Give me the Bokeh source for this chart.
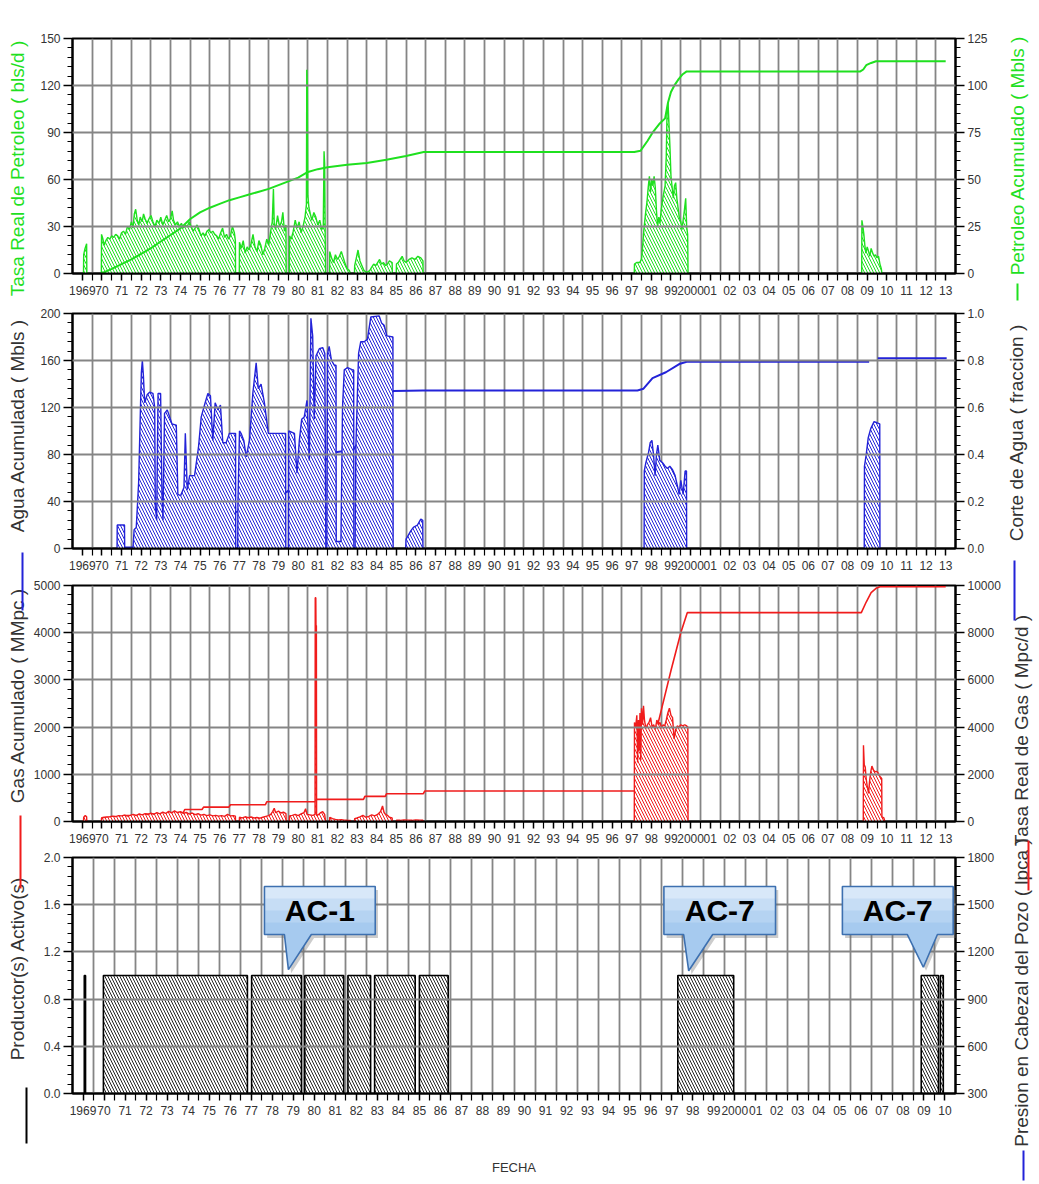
import math
from bokeh.plotting import figure
from bokeh.layouts import row, column
from bokeh.models import (Range1d, LinearAxis, FixedTicker, SingleIntervalTicker,
                          NumeralTickFormatter, AllLabels)
from bokeh.core.properties import value
from bokeh.embed import file_html
from bokeh.resources import INLINE

nan = float("nan")

# ---------------- tick labels ----------------
x_labels_top = ["1969", "70", "71", "72", "73", "74", "75", "76", "77", "78", "79",
                "80", "81", "82", "83", "84", "85", "86", "87", "88", "89",
                "90", "91", "92", "93", "94", "95", "96", "97", "98", "99",
                "2000", "01", "02", "03", "04", "05", "06", "07", "08", "09",
                "10", "11", "12", "13"]
x_labels_bottom = x_labels_top[:42]          # 1969 ... 10

# ---------------- panel 1 : oil ----------------
oil_rate = [   # Tasa Real de Petroleo (bls/d), segments of (year, value)
    [(1969.56, 0), (1969.57, 12), (1969.64, 16), (1969.72, 19), (1969.73, 0)],
    [(1970.47, 0), (1970.48, 25), (1970.55, 22), (1970.62, 18), (1970.70, 21), (1970.80, 23), (1970.90, 22),
     (1971.00, 24), (1971.10, 23), (1971.20, 25), (1971.30, 24), (1971.40, 22), (1971.50, 26), (1971.60, 27),
     (1971.70, 25), (1971.80, 30), (1971.90, 28), (1972.00, 33), (1972.08, 29), (1972.15, 38), (1972.22, 41),
     (1972.30, 34), (1972.38, 31), (1972.45, 36), (1972.55, 33), (1972.62, 38), (1972.70, 35), (1972.80, 32),
     (1972.90, 35), (1973.00, 37), (1973.10, 33), (1973.20, 30), (1973.30, 34), (1973.40, 32), (1973.50, 36),
     (1973.60, 31), (1973.70, 34), (1973.80, 37), (1973.90, 33), (1974.00, 35), (1974.08, 40), (1974.15, 34),
     (1974.25, 31), (1974.35, 33), (1974.45, 30), (1974.55, 32), (1974.65, 29), (1974.75, 31), (1974.85, 30),
     (1974.95, 33), (1975.05, 30), (1975.15, 27), (1975.25, 29), (1975.35, 31), (1975.45, 28), (1975.55, 24),
     (1975.65, 26), (1975.75, 24), (1975.85, 27), (1975.95, 28), (1976.05, 26), (1976.15, 27), (1976.25, 25),
     (1976.35, 24), (1976.45, 22), (1976.55, 26), (1976.65, 29), (1976.75, 23), (1976.85, 25), (1976.95, 22),
     (1977.05, 24), (1977.15, 30), (1977.25, 26), (1977.30, 21), (1977.31, 0)],
    [(1977.50, 0), (1977.51, 20), (1977.60, 16), (1977.70, 21), (1977.80, 13), (1977.90, 17), (1978.00, 15),
     (1978.10, 19), (1978.20, 25), (1978.30, 17), (1978.40, 14), (1978.50, 21), (1978.60, 18), (1978.70, 12),
     (1978.80, 16), (1978.90, 22), (1979.00, 18), (1979.10, 27), (1979.18, 33), (1979.24, 54), (1979.28, 32),
     (1979.35, 28), (1979.45, 37), (1979.55, 30), (1979.65, 33), (1979.72, 39), (1979.80, 27), (1979.88, 31),
     (1979.89, 0)],
    [(1980.05, 0), (1980.06, 24), (1980.15, 22), (1980.25, 27), (1980.35, 34), (1980.45, 29), (1980.55, 33),
     (1980.65, 26), (1980.75, 30), (1980.85, 36), (1980.92, 44), (1980.94, 130), (1980.97, 120), (1980.99, 50),
     (1981.05, 42), (1981.12, 38), (1981.20, 34), (1981.30, 39), (1981.40, 36), (1981.50, 31), (1981.60, 34),
     (1981.70, 28), (1981.78, 30), (1981.82, 78), (1981.85, 70), (1981.88, 22), (1981.90, 0)],
    [(1982.10, 0), (1982.11, 14), (1982.20, 10), (1982.30, 7), (1982.40, 12), (1982.50, 9), (1982.60, 11),
     (1982.70, 14), (1982.80, 10), (1982.90, 6), (1983.00, 3), (1983.10, 2), (1983.18, 0)],
    [(1983.37, 0), (1983.38, 5), (1983.45, 9), (1983.55, 15), (1983.65, 8), (1983.75, 5), (1983.85, 2),
     (1983.95, 1), (1984.05, 1), (1984.15, 2), (1984.25, 4), (1984.35, 6), (1984.45, 5), (1984.55, 7),
     (1984.65, 9), (1984.75, 6), (1984.85, 7), (1984.95, 5), (1985.05, 6), (1985.15, 8), (1985.29, 7), (1985.30, 0)],
    [(1985.50, 0), (1985.51, 6), (1985.60, 7), (1985.70, 9), (1985.80, 11), (1985.90, 8), (1986.00, 7),
     (1986.15, 9), (1986.30, 10), (1986.45, 9), (1986.60, 11), (1986.75, 10), (1986.86, 8), (1986.87, 0)],
    [(1997.63, 0), (1997.64, 6), (1997.75, 7), (1997.90, 7), (1998.00, 9), (1998.06, 18), (1998.12, 28),
     (1998.20, 38), (1998.28, 46), (1998.34, 55), (1998.40, 62), (1998.46, 52), (1998.52, 60), (1998.58, 56),
     (1998.64, 62), (1998.70, 55), (1998.76, 40), (1998.82, 30), (1998.88, 36), (1998.94, 32), (1999.00, 40),
     (1999.07, 47), (1999.14, 52), (1999.20, 56), (1999.26, 75), (1999.30, 103), (1999.35, 109), (1999.40, 95),
     (1999.45, 80), (1999.50, 62), (1999.56, 55), (1999.62, 48), (1999.68, 56), (1999.74, 58), (1999.80, 48),
     (1999.86, 42), (1999.92, 36), (2000.00, 33), (2000.06, 28), (2000.12, 34), (2000.18, 40), (2000.25, 48),
     (2000.30, 30), (2000.35, 25), (2000.37, 0)],
    [(2009.22, 0), (2009.23, 34), (2009.28, 30), (2009.33, 25), (2009.38, 18), (2009.43, 13), (2009.50, 17),
     (2009.57, 14), (2009.64, 11), (2009.70, 16), (2009.78, 13), (2009.85, 11), (2009.92, 12), (2010.00, 10),
     (2010.08, 11), (2010.15, 6), (2010.22, 3), (2010.25, 0)],
]
oil_cum = [   # Petroleo Acumulado (Mbls)
    (1970.47, 0), (1971.0, 2.5), (1971.5, 5), (1972.0, 7.5), (1972.5, 10.5), (1973.0, 13.5), (1973.5, 17),
    (1974.0, 20.5), (1974.5, 24), (1975.0, 29), (1975.5, 32.5), (1976.0, 35), (1976.5, 37), (1977.0, 39),
    (1977.5, 40.5), (1978.0, 42), (1978.5, 43.5), (1979.0, 45), (1979.5, 47), (1980.0, 49), (1980.5, 51),
    (1981.0, 54), (1981.5, 55.5), (1982.0, 56.5), (1982.5, 57.2), (1983.0, 57.8), (1984.0, 58.8), (1985.0, 60.5),
    (1986.0, 62.5), (1986.9, 64.6), (1997.63, 64.6), (1997.95, 65.3), (1998.3, 70.5), (1998.6, 75.5),
    (1998.9, 79.5), (1999.2, 82.5), (1999.35, 91), (1999.5, 96.5), (1999.7, 100.5), (1999.9, 103.5),
    (2000.1, 106), (2000.3, 107.5), (2009.15, 107.5), (2009.3, 108.5), (2009.45, 110.8), (2009.7, 112),
    (2009.95, 112.9), (2013.5, 112.9)]

# ---------------- panel 2 : water ----------------
water_cut = [   # Corte de Agua (fraccion)
    [(1971.27, 0), (1971.28, 0.10), (1971.65, 0.10), (1971.66, 0)],
    [(1972.08, 0), (1972.14, 0.08), (1972.25, 0.09), (1972.37, 0.28), (1972.47, 0.62), (1972.51, 0.75),
     (1972.56, 0.80), (1972.61, 0.74), (1972.68, 0.62), (1972.81, 0.655), (1972.93, 0.665), (1973.10, 0.66),
     (1973.19, 0.60), (1973.22, 0.18), (1973.29, 0.12), (1973.36, 0.66), (1973.49, 0.66), (1973.56, 0.23),
     (1973.61, 0.12), (1973.69, 0.575), (1973.83, 0.59), (1973.95, 0.56), (1974.07, 0.53), (1974.29, 0.525),
     (1974.37, 0.23), (1974.51, 0.225), (1974.68, 0.26), (1974.75, 0.49), (1974.85, 0.25), (1974.97, 0.31),
     (1975.22, 0.31), (1975.42, 0.43), (1975.56, 0.56), (1975.76, 0.62), (1975.90, 0.66), (1976.03, 0.65),
     (1976.15, 0.46), (1976.27, 0.62), (1976.41, 0.59), (1976.54, 0.61), (1976.66, 0.45), (1976.83, 0.45),
     (1977.00, 0.49), (1977.31, 0.49), (1977.32, 0)],
    [(1977.42, 0), (1977.43, 0.19), (1977.51, 0.50), (1977.59, 0.49), (1977.73, 0.46), (1977.85, 0.39),
     (1978.02, 0.46), (1978.19, 0.66), (1978.36, 0.79), (1978.47, 0.68), (1978.61, 0.70), (1978.78, 0.62),
     (1978.98, 0.49), (1979.86, 0.49), (1979.87, 0)],
    [(1980.01, 0), (1980.02, 0.50), (1980.31, 0.49), (1980.44, 0.32), (1980.56, 0.46), (1980.68, 0.55),
     (1980.81, 0.56), (1980.95, 0.63), (1981.07, 0.375), (1981.15, 0.98), (1981.24, 0.905), (1981.32, 0.55),
     (1981.41, 0.82), (1981.58, 0.85), (1981.75, 0.855), (1981.86, 0.83), (1981.91, 0)],
    [(1981.96, 0), (1982.00, 0.83), (1982.08, 0.86), (1982.20, 0.80), (1982.34, 0.78), (1982.43, 0.78),
     (1982.44, 0.03), (1982.68, 0.03), (1982.76, 0.60), (1982.85, 0.76), (1983.02, 0.77), (1983.27, 0.76),
     (1983.33, 0.76), (1983.34, 0)],
    [(1983.40, 0), (1983.44, 0.43), (1983.58, 0.83), (1983.69, 0.88), (1983.86, 0.88), (1984.03, 0.89),
     (1984.20, 0.985), (1984.63, 0.99), (1984.75, 0.96), (1984.88, 0.95), (1985.02, 0.905), (1985.33, 0.90),
     (1985.34, 0)],
    [(1985.98, 0), (1986.00, 0.04), (1986.24, 0.075), (1986.37, 0.09), (1986.58, 0.10), (1986.75, 0.125),
     (1986.85, 0.12), (1986.86, 0)],
    [(1998.13, 0), (1998.14, 0.33), (1998.22, 0.365), (1998.36, 0.41), (1998.44, 0.45), (1998.53, 0.46),
     (1998.61, 0.40), (1998.69, 0.31), (1998.76, 0.40), (1998.83, 0.44), (1998.93, 0.375), (1999.07, 0.365),
     (1999.20, 0.35), (1999.32, 0.34), (1999.44, 0.35), (1999.58, 0.335), (1999.71, 0.31), (1999.83, 0.265),
     (1999.92, 0.23), (2000.00, 0.29), (2000.12, 0.23), (2000.22, 0.33), (2000.29, 0.33), (2000.30, 0)],
    [(2009.35, 0), (2009.36, 0.35), (2009.45, 0.40), (2009.55, 0.47), (2009.68, 0.51), (2009.85, 0.54),
     (2010.00, 0.535), (2010.14, 0.53), (2010.15, 0)],
]
water_cum = [   # Agua Acumulada (Mbls)
    (1971.27, 0), (1971.66, 0.8), (1972.08, 0.8), (1973.0, 4), (1974.0, 9), (1975.0, 15), (1976.0, 22),
    (1977.0, 29), (1978.0, 35), (1979.0, 42), (1979.9, 48), (1980.5, 55), (1981.0, 62), (1981.5, 70),
    (1982.4, 82), (1983.3, 84), (1984.0, 100), (1984.5, 115), (1985.0, 128), (1985.34, 134), (1986.86, 134.5),
    (1997.79, 134.5), (1998.1, 136), (1998.56, 145), (1999.24, 150), (1999.92, 157), (2000.3, 159),
    (2009.6, 159), (nan, nan), (2010.04, 162), (2013.55, 162)]

# ---------------- panel 3 : gas ----------------
gas_rate = [   # Tasa Real de Gas (Mpc/d)
    [(1969.56, 0), (1969.57, 180), (1969.65, 250), (1969.72, 200), (1969.73, 0)],
    [(1970.47, 0), (1970.48, 150), (1970.60, 170), (1970.75, 190), (1970.90, 200), (1971.05, 230), (1971.20, 210),
     (1971.35, 250), (1971.50, 240), (1971.65, 270), (1971.80, 230), (1971.95, 260), (1972.10, 300), (1972.25, 250),
     (1972.40, 320), (1972.55, 280), (1972.70, 330), (1972.85, 290), (1973.00, 350), (1973.15, 300), (1973.30, 380),
     (1973.45, 320), (1973.60, 400), (1973.75, 340), (1973.90, 430), (1974.05, 360), (1974.20, 450), (1974.35, 370),
     (1974.50, 420), (1974.65, 340), (1974.80, 390), (1974.95, 310), (1975.10, 360), (1975.25, 290), (1975.40, 330),
     (1975.55, 270), (1975.70, 300), (1975.85, 250), (1976.00, 280), (1976.15, 240), (1976.30, 260), (1976.45, 230),
     (1976.60, 250), (1976.75, 220), (1976.90, 300), (1977.05, 240), (1977.20, 250), (1977.30, 230), (1977.31, 0)],
    [(1977.50, 0), (1977.51, 180), (1977.65, 150), (1977.80, 200), (1977.95, 160), (1978.10, 190), (1978.25, 150),
     (1978.40, 170), (1978.55, 140), (1978.70, 180), (1978.85, 220), (1979.00, 250), (1979.10, 300), (1979.20, 420),
     (1979.28, 560), (1979.35, 380), (1979.50, 440), (1979.62, 360), (1979.75, 400), (1979.88, 330), (1979.89, 0)],
    [(1980.05, 0), (1980.06, 240), (1980.20, 260), (1980.35, 300), (1980.50, 250), (1980.65, 320), (1980.80, 380),
     (1980.88, 540), (1980.95, 300), (1981.10, 280), (1981.25, 260), (1981.36, 300), (1981.37, 9480),
     (1981.40, 9480), (1981.41, 8300), (1981.43, 8300), (1981.44, 250), (1981.55, 300), (1981.65, 380),
     (1981.75, 420), (1981.85, 300), (1981.90, 0)],
    [(1982.10, 0), (1982.11, 180), (1982.25, 120), (1982.40, 90), (1982.55, 70), (1982.70, 80), (1982.85, 60),
     (1983.00, 50), (1983.17, 40), (1983.18, 0)],
    [(1983.37, 0), (1983.38, 120), (1983.50, 150), (1983.65, 200), (1983.80, 260), (1983.95, 180), (1984.10, 220),
     (1984.25, 280), (1984.40, 240), (1984.55, 300), (1984.70, 420), (1984.80, 660), (1984.88, 380),
     (1984.95, 300), (1985.05, 260), (1985.15, 180), (1985.29, 150), (1985.30, 0)],
    [(1985.50, 0), (1985.51, 60), (1985.70, 50), (1985.90, 70), (1986.10, 60), (1986.30, 50), (1986.50, 70),
     (1986.70, 60), (1986.86, 50), (1986.87, 0)],
    [(1997.63, 0), (1997.64, 4200), (1997.70, 4000), (1997.76, 4500), (1997.80, 2500), (1997.84, 4300),
     (1997.88, 3000), (1997.92, 4600), (1997.96, 2600), (1998.00, 4800), (1998.05, 4100), (1998.10, 4900),
     (1998.15, 4300), (1998.22, 3950), (1998.30, 4100), (1998.38, 4200), (1998.46, 4400), (1998.54, 4000),
     (1998.62, 4100), (1998.70, 3900), (1998.78, 4300), (1998.86, 4100), (1998.94, 4200), (1999.02, 3950),
     (1999.10, 4100), (1999.18, 4050), (1999.26, 4300), (1999.34, 4600), (1999.42, 4800), (1999.50, 4500),
     (1999.58, 4400), (1999.66, 3500), (1999.74, 3900), (1999.82, 4050), (1999.90, 4000), (2000.00, 4100),
     (2000.10, 4050), (2000.20, 4100), (2000.30, 4050), (2000.36, 4000), (2000.37, 0)],
    [(2009.30, 0), (2009.31, 3230), (2009.35, 2400), (2009.40, 2310), (2009.45, 1800), (2009.50, 1500),
     (2009.57, 1190), (2009.62, 1700), (2009.68, 2100), (2009.74, 2350), (2009.82, 2180), (2009.90, 2100),
     (2009.96, 2120), (2010.04, 2080), (2010.12, 1950), (2010.16, 1900), (2010.24, 1820), (2010.25, 200),
     (2010.35, 150), (2010.40, 0)],
]
gas_cum = [   # Gas Acumulado (MMpc)
    (1970.47, 60), (1970.55, 85), (1971.55, 85), (1971.62, 128), (1972.65, 128), (1972.72, 156), (1973.83, 156),
    (1973.90, 191), (1974.65, 191), (1974.72, 255), (1975.60, 255), (1975.68, 305), (1976.97, 305),
    (1977.05, 355), (1978.83, 355), (1978.90, 418), (1981.38, 418), (1981.45, 468), (1983.83, 468),
    (1983.90, 532), (1984.94, 532), (1985.00, 589), (1986.88, 589), (1986.95, 645), (1997.63, 645),
    (1997.95, 700), (1998.50, 1500), (1999.00, 2350), (1999.50, 3200), (2000.00, 4000), (2000.33, 4425),
    (2009.20, 4425), (2009.45, 4650), (2009.70, 4850), (2009.95, 4940), (2010.15, 4975), (2013.50, 4975)]

# ---------------- panel 4 : active producers ----------------
prod_start = [1969.56, 1970.47, 1977.52, 1980.05, 1982.10, 1983.37, 1985.50, 1997.79, 2009.37, 2010.28]
prod_end = [1969.62, 1977.32, 1979.89, 1981.90, 1983.18, 1985.30, 1986.87, 2000.45, 2010.19, 2010.42]
prod_active = [1, 1, 1, 1, 1, 1, 1, 1, 1, 1]

# callouts: text, box left, box right, pointer base left, base right, tip x, tip y
callouts = [("AC-1", 1978.13, 1983.40, 1979.08, 1980.36, 1979.27, 1.05),
            ("AC-7", 1997.13, 2002.44, 1998.07, 1999.45, 1998.31, 1.04),
            ("AC-7", 2005.62, 2010.89, 2008.71, 2010.14, 2009.47, 1.07)]
callout_top, callout_bottom = 1.754, 1.347

GREEN = "#1fe01f"
BLUE = "#2323d8"
RED = "#f01c1c"
GRID = "#858585"
TXT = "#333333"
TICKFONT = "Liberation Sans"
TOTAL_H = 1182


def unzip(pairs):
    return [a for a, b in pairs], [b for a, b in pairs]


def make_panel(height, top, bottom, x_range, yl, yr, lstep, rstep, lfmt, rfmt, labels, nyears):
    p = figure(width=973, height=height, x_range=x_range, y_range=Range1d(*yl),
               toolbar_location=None, output_backend="svg",
               min_border_left=40, min_border_right=48, min_border_top=top, min_border_bottom=bottom)
    p.extra_y_ranges = {"r": Range1d(*yr)}
    raxis = LinearAxis(y_range_name="r", ticker=SingleIntervalTicker(interval=rstep, num_minor_ticks=5),
                       formatter=NumeralTickFormatter(format=rfmt))
    p.add_layout(raxis, "right")
    p.yaxis[0].ticker = SingleIntervalTicker(interval=lstep, num_minor_ticks=5)
    p.yaxis[0].formatter = NumeralTickFormatter(format=lfmt)
    majors = [1969.5 + i for i in range(nyears)]
    minors = [1970 + i for i in range(nyears - 1)]
    p.xaxis.ticker = FixedTicker(ticks=majors, minor_ticks=minors)
    p.xaxis.major_label_overrides = {m: lab for m, lab in zip(majors, labels)}
    p.xaxis.major_label_policy = AllLabels()
    p.xgrid.ticker = FixedTicker(ticks=minors)
    for g in (p.xgrid, p.ygrid):
        g.grid_line_color = GRID
        g.grid_line_width = 1.8
    p.ygrid.level = "guide"          # horizontal grid drawn over the hatched areas
    for ax in p.axis:
        ax.axis_line_color = "black"
        ax.axis_line_width = 2
        ax.major_tick_line_color = "black"
        ax.minor_tick_line_color = "black"
        ax.major_tick_line_width = 1.5
        ax.minor_tick_line_width = 1.2
        ax.major_tick_in = 0
        ax.minor_tick_in = 0
        ax.major_label_text_font = TICKFONT
        ax.major_label_text_color = TXT
    for ax in p.yaxis:
        ax.major_tick_out = 9
        ax.minor_tick_out = 5
        ax.major_label_standoff = 3
        ax.major_label_text_font_size = "12px"
    for ax in p.xaxis:
        ax.major_tick_out = 7
        ax.minor_tick_out = 7
        ax.major_label_standoff = 5
        ax.major_label_text_font_size = "12px"
    p.outline_line_color = "black"
    p.outline_line_width = 2
    return p


def hatched(p, segs, color, rng="default"):
    for seg in segs:
        xs, ys = unzip(seg)
        p.varea(x=xs, y1=0, y2=ys, fill_color="white", fill_alpha=1, hatch_pattern="\\",
                hatch_color=color, hatch_scale=6, hatch_weight=1, y_range_name=rng)
        p.line(xs, ys, line_color=color, line_width=1.4, y_range_name=rng)


xr_top = Range1d(1969, 2014)
xr_bot = Range1d(1969, 2011)

# panel 1: rate (left) hatched first, cumulative (right) on top
p1 = make_panel(301, 38, 28, xr_top, (0, 150), (0, 125), 30, 25, "0", "0", x_labels_top, 45)
hatched(p1, oil_rate, GREEN)
t, v = unzip(oil_cum)
p1.line(t, v, line_color=GREEN, line_width=2, y_range_name="r")

# panel 2: cumulative (left) first, water cut (right) hatched on top
p2 = make_panel(275, 12, 28, xr_top, (0, 200), (0, 1.0), 40, 0.2, "0", "0.0", x_labels_top, 45)
t, v = unzip(water_cum)
p2.line(t, v, line_color=BLUE, line_width=2)
hatched(p2, water_cut, BLUE, "r")

# panel 3: cumulative (left) first, gas rate (right) hatched on top
p3 = make_panel(273, 9, 28, xr_top, (0, 5000), (0, 10000), 1000, 2000, "0", "0", x_labels_top, 45)
t, v = unzip(gas_cum)
p3.line(t, v, line_color=RED, line_width=1.6)
hatched(p3, gas_rate, RED, "r")

p4 = make_panel(333, 8, 89, xr_bot, (0, 2.0), (300, 1800), 0.4, 300, "0.0", "0", x_labels_bottom, 42)
p4.quad(left=prod_start, right=prod_end, bottom=0, top=prod_active, fill_color="white", fill_alpha=1,
        hatch_pattern="\\", hatch_color="#222222", hatch_scale=6, hatch_weight=1,
        line_color="black", line_width=1.6)
p4.xaxis.axis_label = "FECHA"
p4.xaxis.axis_label_standoff = 42
p4.xaxis.axis_label_text_font = "Liberation Sans"
p4.xaxis.axis_label_text_font_size = "13px"
p4.xaxis.axis_label_text_font_style = "normal"
p4.xaxis.axis_label_text_color = TXT

# callouts (drawn above the grid)
bands = [(0.0, "#a6caef"), (0.25, "#b5d3f2"), (0.5, "#c6ddf5"), (0.75, "#d8e8f9")]
for text, x0, x1, b0, b1, tx, ty in callouts:
    xs = [x0, x1, x1, b1, tx, b0, x0]
    ys = [callout_top, callout_top, callout_bottom, callout_bottom, ty, callout_bottom, callout_bottom]
    p4.patch([x + 0.13 for x in xs], [y - 0.03 for y in ys], fill_color="#6d6d6d", fill_alpha=0.35,
             line_color=None, level="annotation")
    p4.patch(xs, ys, fill_color="#a6caef", line_color=None, level="annotation")
    hgt = callout_top - callout_bottom
    for frac, col in bands[1:]:
        p4.quad(left=x0, right=x1, bottom=callout_bottom + frac * hgt, top=callout_top,
                fill_color=col, line_color=None, level="annotation")
    p4.patch(xs, ys, fill_alpha=0, line_color="#3d70b0", line_width=1.6, level="annotation")
    p4.text(x=[(x0 + x1) / 2], y=[(callout_top + callout_bottom) / 2], text=[text],
            text_align="center", text_baseline="middle", text_font=value("Liberation Sans"),
            text_font_style="bold", text_font_size="30px", text_color="black", level="annotation")

# ---------------- side title strips (page pixel coordinates) ----------------
def strip(width, x0):
    f = figure(width=width, height=TOTAL_H, x_range=Range1d(x0, x0 + width), y_range=Range1d(TOTAL_H, 0),
               toolbar_location=None, output_backend="svg", min_border=0,
               x_axis_type=None, y_axis_type=None)
    f.grid.visible = False
    f.outline_line_color = None
    return f

lf = strip(30, 0)
lf.text(x=[17, 17, 17, 17], y=[168, 425, 695, 968],
        text=["Tasa Real de Petroleo ( bls/d )", "Agua Acumulada ( Mbls )",
              "Gas Acumulado ( MMpc )", "Productor(s) Activo(s)"],
        angle=math.pi / 2, text_align="center", text_baseline="middle",
        text_font=value("Liberation Sans"), text_font_size="19px",
        text_color=[GREEN, TXT, TXT, TXT])
lf.segment(x0=[22, 20, 26], y0=[552, 815, 1087], x1=[22, 20, 26], y1=[610, 888, 1143],
           line_color=[BLUE, RED, "black"], line_width=2)

rf = strip(34, 1003)
rf.text(x=[1017, 1016, 1021, 1021], y=[155, 432, 730, 992],
        text=["Petroleo Acumulado ( Mbls )", "Corte de Agua ( fraccion )",
              "Tasa Real de Gas ( Mpc/d )", "Presion en Cabezal del Pozo ( lpca )"],
        angle=math.pi / 2, text_align="center", text_baseline="middle",
        text_font=value("Liberation Sans"), text_font_size="19px",
        text_color=[GREEN, TXT, TXT, TXT])
rf.segment(x0=[1017, 1014, 1028, 1023], y0=[283, 560, 840, 1150], x1=[1017, 1014, 1028, 1023],
           y1=[300, 620, 890, 1180], line_color=[GREEN, BLUE, RED, BLUE], line_width=2)

layout = row(lf, column(p1, p2, p3, p4), rf)
open("out.html", "w").write(file_html(layout, INLINE))
